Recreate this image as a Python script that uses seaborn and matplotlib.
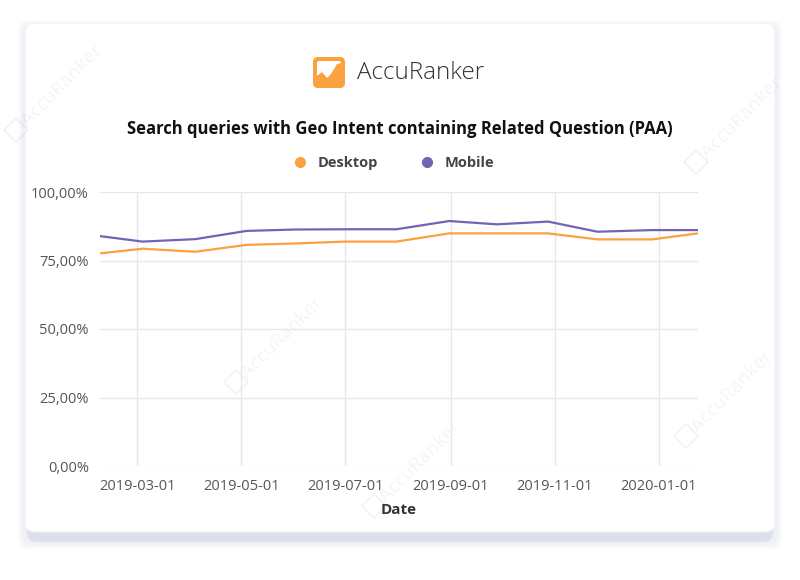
import pandas as pd
import matplotlib.pyplot as plt
import matplotlib.dates as mdates
import seaborn as sns
from matplotlib.patches import FancyBboxPatch, Polygon
from matplotlib.lines import Line2D
from matplotlib.ticker import FuncFormatter, MultipleLocator

# Data (share of queries, %)
dates = ['2019-02-07', '2019-03-04', '2019-04-04', '2019-05-04', '2019-06-01',
         '2019-07-01', '2019-07-31', '2019-08-31', '2019-09-28', '2019-10-28',
         '2019-11-26', '2019-12-28', '2020-01-24']
desktop = [77.6, 79.3, 78.2, 80.7, 81.2, 81.9, 81.9, 84.9, 84.9, 84.9, 82.7, 82.7, 84.9]
mobile = [83.9, 81.9, 82.8, 85.8, 86.3, 86.4, 86.4, 89.4, 88.2, 89.2, 85.5, 86.1, 86.1]
series = ['Desktop', 'Mobile']
colors = ['#fba13f', '#7463b3']

title = 'Search queries with Geo Intent containing Related Question (PAA)'

# Long format for seaborn
df = pd.DataFrame({
    'Date': pd.to_datetime(dates * 2),
    'value': desktop + mobile,
    'device': [series[0]] * len(dates) + [series[1]] * len(dates),
})

sns.set_theme(style='white')
plt.rcParams['font.family'] = ['Open Sans', 'DejaVu Sans']

fig = plt.figure(figsize=(8, 5.8), dpi=100)
fig.patch.set_facecolor('white')

# Background layer in pixel coordinates: card, shadow, logo, watermarks
bg = fig.add_axes([0, 0, 1, 1], zorder=0)
bg.set_xlim(0, 800)
bg.set_ylim(580, 0)
bg.axis('off')

for i, a in enumerate([0.25, 0.45, 0.7]):
    g = 7 - 2 * i
    bg.add_patch(FancyBboxPatch((25 - g, 23 - g + 4), 750 + 2 * g, 515 + 2 * g,
                                boxstyle='round,pad=0,rounding_size=10',
                                fc='#eef0f6', ec='none', alpha=a))
bg.add_patch(FancyBboxPatch((27, 30), 746, 512, boxstyle='round,pad=0,rounding_size=10',
                            fc='#dde0ea', ec='none'))
bg.add_patch(FancyBboxPatch((25, 23), 750, 509, boxstyle='round,pad=0,rounding_size=10',
                            fc='white', ec='#f1f2f6', lw=0.8))

# faint watermarks
for (wx, wy) in [(62, 86), (282, 338), (420, 462), (742, 118), (732, 392)]:
    bg.text(wx, wy, 'AccuRanker', rotation=45, fontsize=14, color='#000000', alpha=0.045,
            ha='center', va='center')
    bg.add_patch(Polygon([(wx - 58, wy + 44), (wx - 46, wy + 32), (wx - 34, wy + 44),
                          (wx - 46, wy + 56)], closed=True, fc='none', ec='#000000',
                         alpha=0.045, lw=1.5, joinstyle='round'))

# logo
bg.add_patch(FancyBboxPatch((313, 57), 32, 31, boxstyle='round,pad=0,rounding_size=5',
                            fc='#fba13f', ec='none'))
bg.add_patch(FancyBboxPatch((317, 61), 24, 23, boxstyle='round,pad=0,rounding_size=2',
                            fc='white', ec='none'))
bg.add_patch(Polygon([(317, 84), (317, 76), (322, 72), (327, 78), (331, 74), (337, 64),
                      (341, 63), (341, 84)], closed=True, fc='#fba13f', ec='none'))
bg.text(357, 73, 'AccuRanker', fontsize=17.5, color='#333333', ha='left', va='center',
        fontweight='light')

# title
bg.text(400, 129, title, fontsize=12, fontweight='bold', color='#111111',
        ha='center', va='center')

# main chart
ax = fig.add_axes([100 / 800, 1 - 466 / 580, 598 / 800, 274 / 580], zorder=1)
ax.set_facecolor('none')
sns.lineplot(data=df, x='Date', y='value', hue='device', palette=colors,
             linewidth=1.6, ax=ax, legend=False)

ax.set_ylim(0, 100)
ax.set_xlim(df['Date'].min(), df['Date'].max())
ax.yaxis.set_major_locator(MultipleLocator(25))
ax.yaxis.set_major_formatter(FuncFormatter(lambda v, p: f'{v:.2f}%'.replace('.', ',')))
ax.xaxis.set_major_locator(mdates.MonthLocator(bymonth=[1, 3, 5, 7, 9, 11]))
ax.xaxis.set_major_formatter(mdates.DateFormatter('%Y-%m-%d'))

ax.grid(True, color='#e6e6ef', linewidth=1)
for s in ax.spines.values():
    s.set_visible(False)
ax.tick_params(axis='both', length=0, labelsize=10.5, labelcolor='#555555')
ax.tick_params(axis='x', pad=9)
ax.tick_params(axis='y', pad=8)
ax.set_ylabel('')
ax.set_xlabel('Date', fontsize=11, fontweight='bold', color='#333333', labelpad=7)

handles = [Line2D([], [], marker='o', ls='', color=c, markersize=7) for c in colors]
fig.legend(handles, series, loc='center', bbox_to_anchor=(390 / 800, 1 - 163 / 580),
           ncol=2, frameon=False, columnspacing=2.4, handletextpad=0.2,
           prop={'weight': 'bold', 'size': 10.5}, labelcolor='#444444')

fig.savefig('out.png', dpi=100, facecolor='white')
